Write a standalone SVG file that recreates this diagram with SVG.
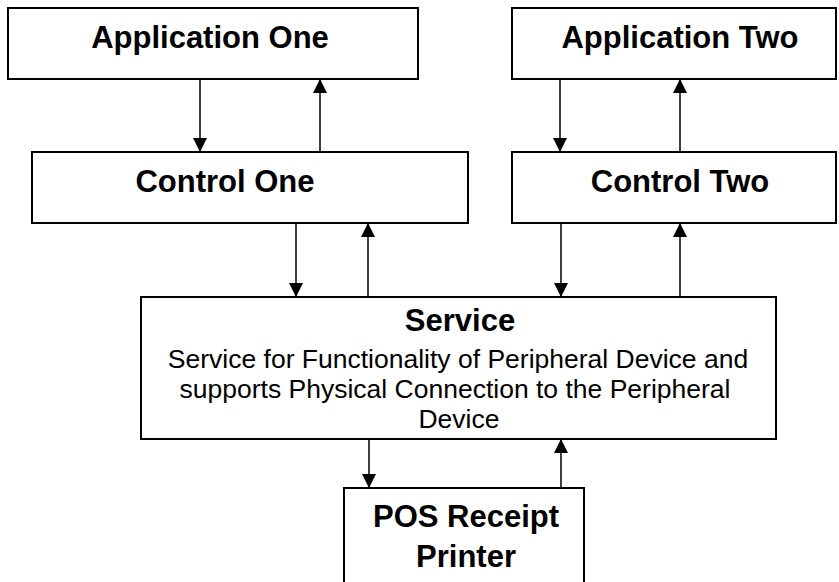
<svg xmlns="http://www.w3.org/2000/svg" width="839" height="582" viewBox="0 0 839 582">
<style>
.box{fill:#fff;stroke:#000;stroke-width:2}
.t{font-family:"Liberation Sans",Arial,sans-serif;font-weight:bold;font-size:31px;fill:#000;text-anchor:middle}
.b{font-family:"Liberation Sans",Arial,sans-serif;font-size:26.5px;fill:#000;text-anchor:middle}
.c{stroke:#000;stroke-width:1.5;fill:none;marker-end:url(#ah)}
</style>
<defs>
<marker id="ah" markerUnits="userSpaceOnUse" markerWidth="14" markerHeight="14" viewBox="0 0 14 14" refX="14" refY="7" orient="auto">
<path d="M0,0 L14,7 L0,14 z" fill="#000"/>
</marker>
</defs>
<rect width="839" height="582" fill="#fff"/>
<g id="app1"><rect class="box" x="8" y="8" width="410" height="71"/><text class="t" x="210" y="48">Application One</text></g>
<g id="app2"><rect class="box" x="512" y="8" width="324" height="71"/><text class="t" x="680" y="48">Application Two</text></g>
<g id="ctrl1"><rect class="box" x="32" y="152" width="436" height="71"/><text class="t" x="225" y="192">Control One</text></g>
<g id="ctrl2"><rect class="box" x="512" y="152" width="324" height="71"/><text class="t" x="680" y="192">Control Two</text></g>
<g id="service"><rect class="box" x="141" y="297" width="635" height="142"/>
<text class="t" x="460" y="331">Service</text>
<text class="b" x="458" y="368">Service for Functionality of Peripheral Device and</text>
<text class="b" x="455" y="398">supports Physical Connection to the Peripheral</text>
<text class="b" x="459" y="428">Device</text></g>
<g id="printer"><rect class="box" x="344" y="488" width="240" height="100"/>
<text class="t" x="466" y="527">POS Receipt</text>
<text class="t" x="466" y="567">Printer</text></g>
<g id="connectors">
<line class="c" x1="200" y1="79" x2="200" y2="152"/>
<line class="c" x1="320" y1="152" x2="320" y2="79"/>
<line class="c" x1="560" y1="79" x2="560" y2="152"/>
<line class="c" x1="680" y1="152" x2="680" y2="79"/>
<line class="c" x1="296" y1="223" x2="296" y2="297"/>
<line class="c" x1="368" y1="297" x2="368" y2="223"/>
<line class="c" x1="561" y1="223" x2="561" y2="297"/>
<line class="c" x1="680" y1="297" x2="680" y2="223"/>
<line class="c" x1="369" y1="439" x2="369" y2="488"/>
<line class="c" x1="561" y1="488" x2="561" y2="439"/>
</g>
</svg>
